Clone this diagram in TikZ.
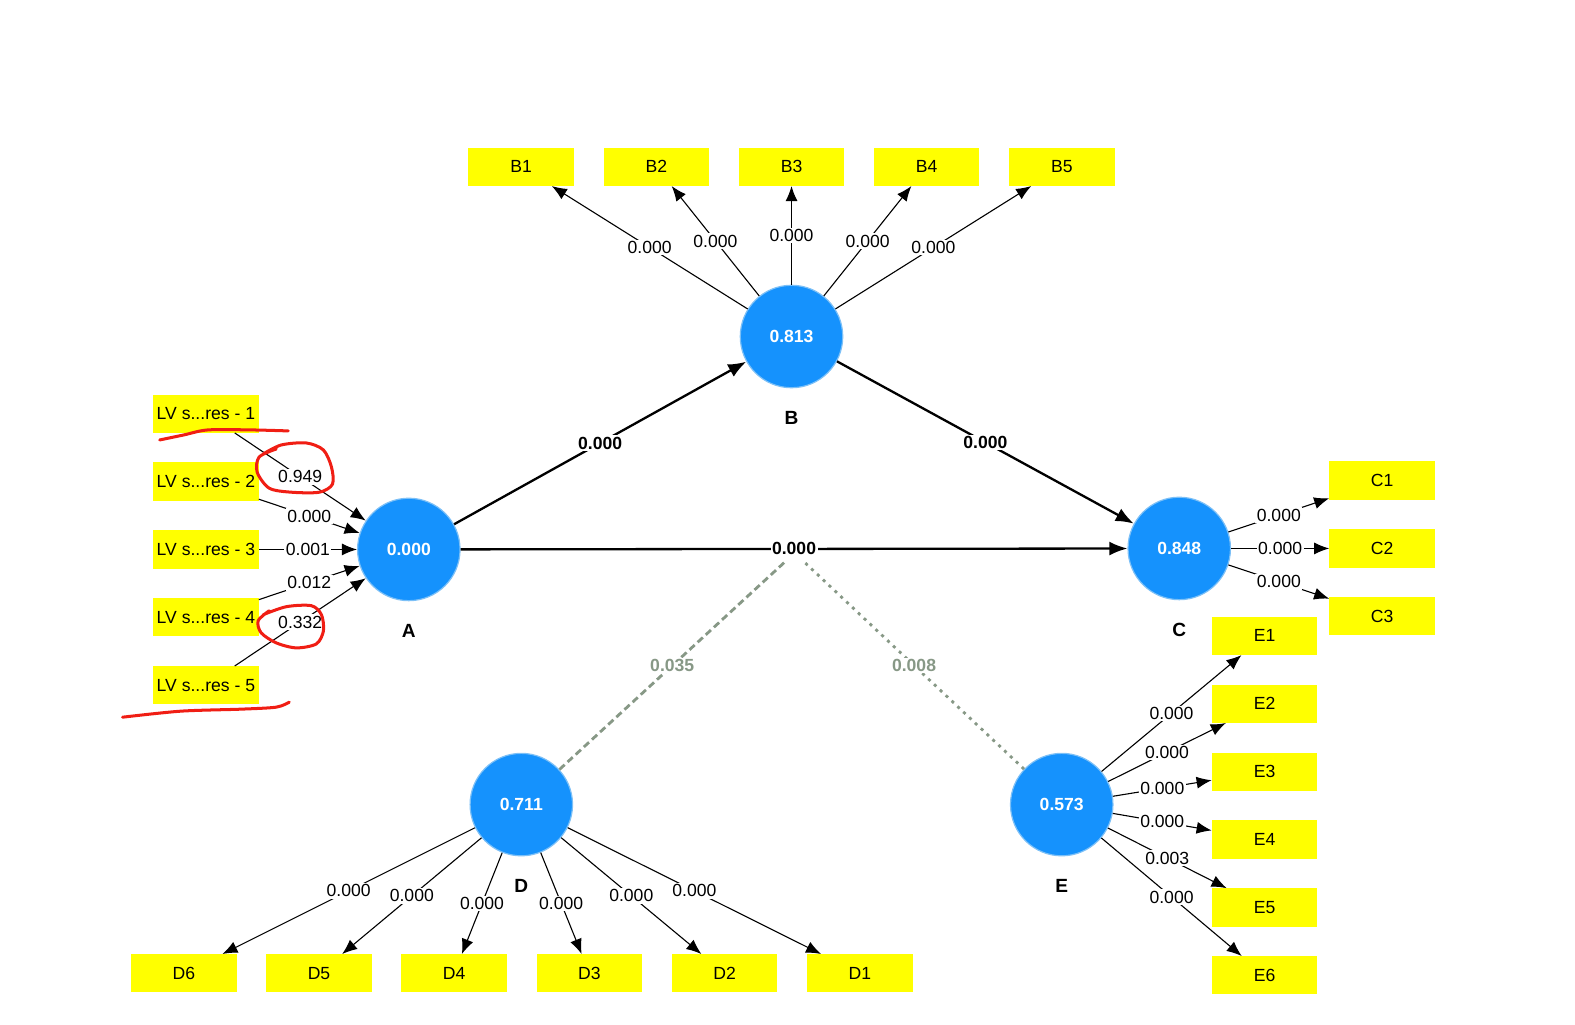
\documentclass[tikz,border=0pt]{standalone}
\usepackage{fontspec}
\setmainfont{Liberation Sans}
\usetikzlibrary{arrows.meta,positioning}
\definecolor{plsblue}{HTML}{1592FD}
\definecolor{plsring}{HTML}{7CC0F7}
\definecolor{plsyellow}{HTML}{FFFF00}
\definecolor{plsgreen}{HTML}{879886}
\definecolor{plsred}{HTML}{F01E14}
\tikzset{
  latent/.style={circle, fill=plsblue, draw=plsring, line width=1.2pt, minimum size=102pt, inner sep=0pt, text=white, font=\fontsize{17.5}{20}\selectfont\bfseries},
  itembox/.style={fill=plsyellow, minimum width=105pt, minimum height=38pt, inner sep=0pt, font=\fontsize{17.5}{20}\selectfont},
  lvname/.style={inner sep=0pt, font=\fontsize{19}{22}\selectfont\bfseries},
  coef/.style={fill=white, inner sep=1.5pt, font=\fontsize{17.5}{20}\selectfont},
  pathcoef/.style={coef, font=\fontsize{17.5}{20}\selectfont\bfseries},
  modcoef/.style={pathcoef, text=plsgreen},
  loading/.style={-{Latex[length=15pt,width=12pt]}, line width=1.1pt},
  structural/.style={-{Latex[length=18pt,width=14pt]}, line width=2.3pt},
  modline/.style={line width=2.8pt, draw=plsgreen, dash pattern=on 7pt off 4pt},
  moddots/.style={line width=2.8pt, draw=plsgreen, dash pattern=on 3pt off 5pt},
  scribble/.style={draw=plsred, line width=3pt, line cap=round, line join=round}
}
\begin{document}
\begin{tikzpicture}[x=1pt, y=-1pt, node distance=29.2pt and 29.2pt]
  \useasboundingbox (0,0) rectangle (1568,1020);
  % latent variables
  \node[latent] (A) at (407,547) {0.000};
  \node[latent] (B) at (788,335) {0.813};
  \node[latent] (C) at (1174,546) {0.848};
  \node[latent] (D) at (519,801) {0.711};
  \node[latent] (E) at (1057,801) {0.573};
  \node[lvname, below=23pt of A] (Aname) {A};
  \node[lvname, below=23pt of B] (Bname) {B};
  \node[lvname, below=23pt of C] (Cname) {C};
  \node[lvname, below=23pt of D] (Dname) {D};
  \node[lvname, below=23pt of E] (Ename) {E};

  % indicators
  \node[itembox] (B3) at (788,166) {B3};
  \node[itembox, left=of B3] (B2) {B2};
  \node[itembox, left=of B2] (B1) {B1};
  \node[itembox, right=of B3] (B4) {B4};
  \node[itembox, right=of B4] (B5) {B5};
  \node[itembox] (LV3) at (205,547) {LV s...res - 3};
  \node[itembox, above=of LV3] (LV2) {LV s...res - 2};
  \node[itembox, above=of LV2] (LV1) {LV s...res - 1};
  \node[itembox, below=of LV3] (LV4) {LV s...res - 4};
  \node[itembox, below=of LV4] (LV5) {LV s...res - 5};
  \node[itembox] (C2) at (1376,546) {C2};
  \node[itembox, above=of C2] (C1) {C1};
  \node[itembox, below=of C2] (C3) {C3};
  \node[itembox] (E1) at (1259,633) {E1};
  \node[itembox, below=of E1] (E2) {E2};
  \node[itembox, below=of E2] (E3) {E3};
  \node[itembox, below=of E3] (E4) {E4};
  \node[itembox, below=of E4] (E5) {E5};
  \node[itembox, below=of E5] (E6) {E6};
  \node[itembox] (D6) at (183,969) {D6};
  \node[itembox, right=of D6] (D5) {D5};
  \node[itembox, right=of D5] (D4) {D4};
  \node[itembox, right=of D4] (D3) {D3};
  \node[itembox, right=of D3] (D2) {D2};
  \node[itembox, right=of D2] (D1) {D1};

  % inner model
  \draw[structural] (A) -- node[pathcoef] {0.000} (B);
  \draw[structural] (B) -- node[pathcoef] {0.000} (C);
  \draw[structural] (A) -- node[pathcoef] (AC) {0.000} (C);
  \draw[modline] (D) -- node[modcoef] {0.035} ([xshift=-9pt,yshift=-4pt]AC.south);
  \draw[moddots] (E) -- node[modcoef] {0.008} ([xshift=10pt,yshift=-4pt]AC.south);

  % outer model
  \draw[loading] (LV1) -- node[coef] {0.949} (A);
  \draw[loading] (LV2) -- node[coef] {0.000} (A);
  \draw[loading] (LV3) -- node[coef] {0.001} (A);
  \draw[loading] (LV4) -- node[coef] {0.012} (A);
  \draw[loading] (LV5) -- node[coef] {0.332} (A);
  \draw[loading] (B) -- node[coef] {0.000} (B1);
  \draw[loading] (B) -- node[coef] {0.000} (B2);
  \draw[loading] (B) -- node[coef] {0.000} (B3);
  \draw[loading] (B) -- node[coef] {0.000} (B4);
  \draw[loading] (B) -- node[coef] {0.000} (B5);
  \draw[loading] (C) -- node[coef] {0.000} (C1);
  \draw[loading] (C) -- node[coef] {0.000} (C2);
  \draw[loading] (C) -- node[coef] {0.000} (C3);
  \draw[loading] (D) -- node[coef] {0.000} (D1);
  \draw[loading] (D) -- node[coef] {0.000} (D2);
  \draw[loading] (D) -- node[coef] {0.000} (D3);
  \draw[loading] (D) -- node[coef] {0.000} (D4);
  \draw[loading] (D) -- node[coef] {0.000} (D5);
  \draw[loading] (D) -- node[coef] {0.000} (D6);
  \draw[loading] (E) -- node[coef] {0.000} (E1);
  \draw[loading] (E) -- node[coef] {0.000} (E2);
  \draw[loading] (E) -- node[coef] {0.000} (E3);
  \draw[loading] (E) -- node[coef] {0.000} (E4);
  \draw[loading] (E) -- node[coef] {0.003} (E5);
  \draw[loading] (E) -- node[coef] {0.000} (E6);

  % red marks
  \draw[scribble] plot[smooth] coordinates {(159,438) (183,433) (207,428) (250,428) (287,429)};
  \draw[scribble] plot[smooth] coordinates {(262,452) (280,443) (305,441) (322,448) (330,465) (331,482) (318,490) (290,490) (268,486) (256,470) (258,455) (275,447)};
  \draw[scribble] plot[smooth] coordinates {(262,612) (285,604) (310,603) (320,612) (322,628) (315,641) (295,645) (275,640) (260,630) (257,618) (268,608)};
  \draw[scribble] plot[smooth] coordinates {(122,714) (180,708) (240,706) (275,704) (288,699)};
\end{tikzpicture}
\end{document}
